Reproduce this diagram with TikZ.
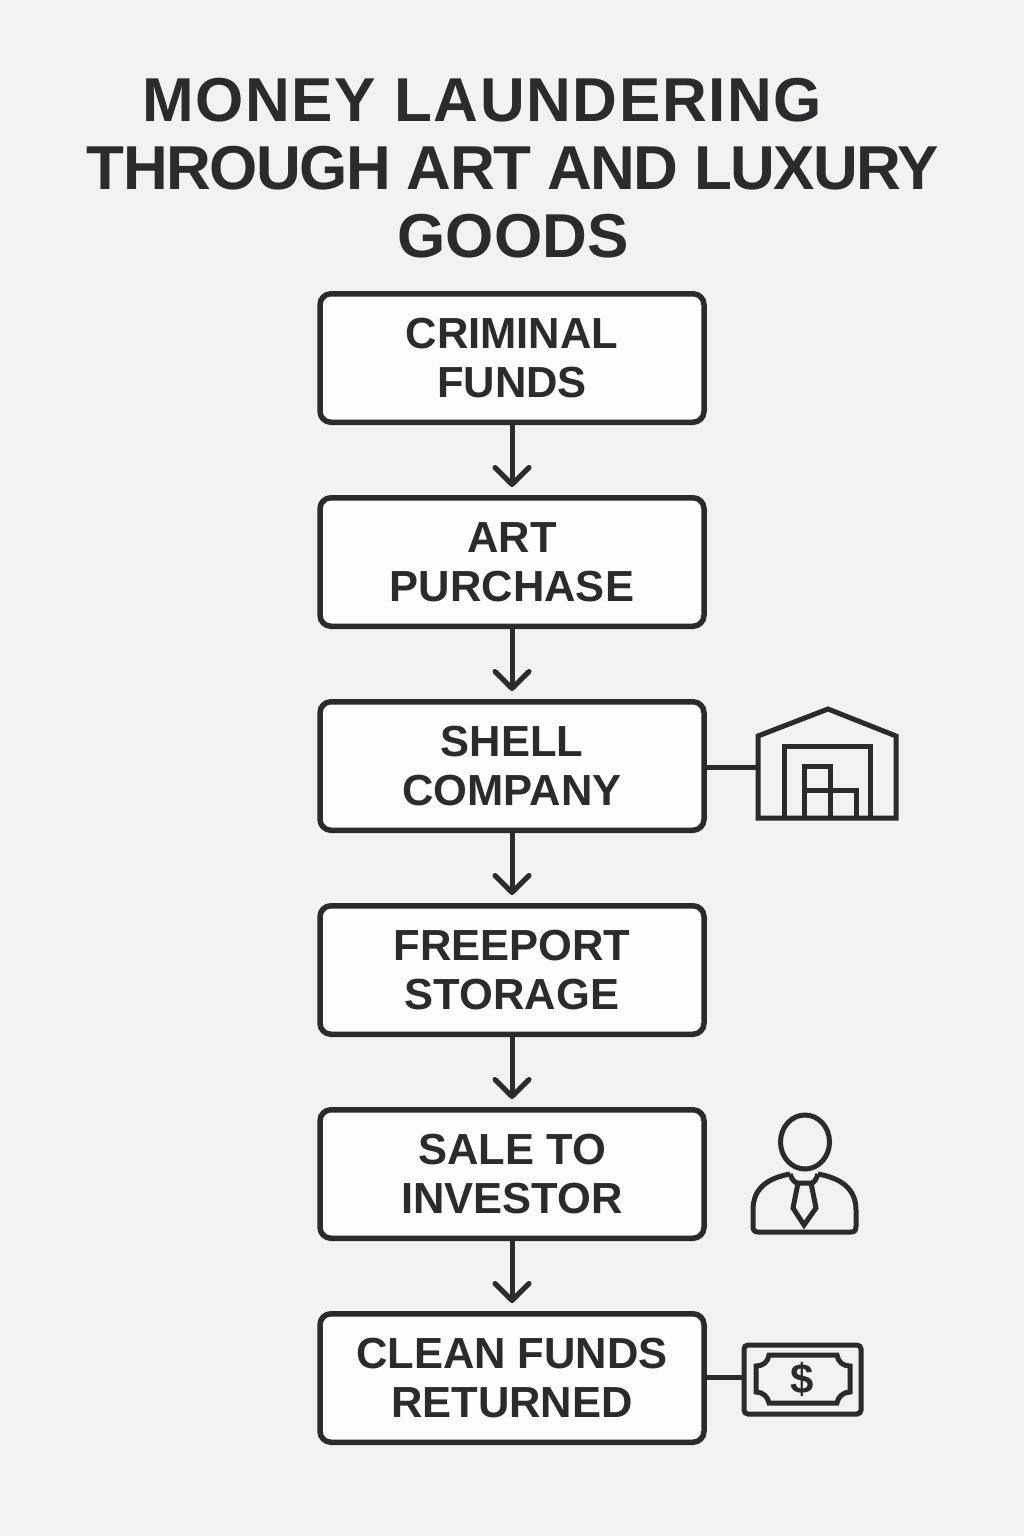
\documentclass[tikz,border=0pt]{standalone}
\usepackage{fontspec}
\setmainfont{Liberation Sans}
\usetikzlibrary{arrows.meta,positioning}
\definecolor{ink}{HTML}{2B2B2B}
\definecolor{paper}{HTML}{F2F2F0}
\definecolor{boxfill}{HTML}{FDFDFB}

\begin{document}
\begin{tikzpicture}[
  x=1pt, y=-1pt,
  font=\fontsize{43.5}{49}\selectfont\bfseries,
  text=ink,
  flowbox/.style={draw=ink, line width=5.5pt, rounded corners=11pt, fill=boxfill, align=center,
    minimum width=384pt, minimum height=128.5pt, inner sep=0pt},
  arr/.style={-{Straight Barb[length=17pt, width=34pt, round]}, draw=ink, line width=5pt, shorten >=8pt},
  tie/.style={draw=ink, line width=5pt},
  icon/.style={draw=ink, line width=5pt, line join=miter},
  titleline/.style={font=\fontsize{62}{68}\selectfont\bfseries, inner sep=0pt}
]
\fill[paper] (0,0) rectangle (1024,1536);
\useasboundingbox (0,0) rectangle (1024,1536);

% ── Title: three lines, the first sits left of centre ─────────────────
\node[titleline] (titlea) at (482,100) {\addfontfeature{LetterSpace=2.5}MONEY LAUNDERING};
\node[titleline] (titleb) at (513,168) {\addfontfeature{LetterSpace=-2.4}THROUGH ART AND LUXURY};
\node[titleline] (titlec) at (513,236) {GOODS};

% ── The flow ──────────────────────────────────────────────────────────
\node[flowbox] (crim) at (512,358) {CRIMINAL\\FUNDS};
\node[flowbox, below=70pt of crim] (art) {ART\\PURCHASE};
\node[flowbox, below=70pt of art] (shell) {SHELL\\COMPANY};
\node[flowbox, below=70pt of shell] (free) {FREEPORT\\STORAGE};
\node[flowbox, below=70pt of free] (sale) {SALE TO\\INVESTOR};
\node[flowbox, below=70pt of sale] (clean) {CLEAN FUNDS\\RETURNED};
\draw[arr] (crim) -- (art);
\draw[arr] (art) -- (shell);
\draw[arr] (shell) -- (free);
\draw[arr] (free) -- (sale);
\draw[arr] (sale) -- (clean);

% ── Warehouse ─────────────────────────────────────────────────────────
\coordinate (whouse) at (757,767);
\draw[tie] (shell.east |- whouse) -- (whouse);
\draw[icon] (758,818) -- (758,736) -- (828,709) -- (896,736) -- (896,818) -- cycle;
\draw[icon] (784,818) -- (784,746) -- (870,746) -- (870,818);
\draw[icon] (804,818) -- (804,766) -- (830,766) -- (830,818);
\draw[icon] (804,790) -- (856,790) -- (856,818);

% ── Investor ──────────────────────────────────────────────────────────
\draw[icon] (805,1142) ellipse [x radius=24.5, y radius=27];
\draw[icon, line join=round] (790,1174) .. controls (768,1178) and (753,1188) .. (753,1210)
  -- (753,1226) .. controls (753,1230) and (754,1232) .. (758,1232) -- (851,1232)
  .. controls (855,1232) and (856,1230) .. (856,1226) -- (856,1210)
  .. controls (856,1188) and (840,1178) .. (818,1174);
\draw[icon] (790,1174) .. controls (792,1180) and (795,1183) .. (798,1183) -- (811,1183)
  .. controls (814,1183) and (816,1180) .. (818,1174);
\draw[icon] (798,1183) -- (793,1208) -- (804,1225) -- (816,1208) -- (811,1183);

% ── Banknote ──────────────────────────────────────────────────────────
\coordinate (bill) at (744,1377);
\draw[tie] (clean.east |- bill) -- (bill);
\draw[icon, rounded corners=4pt] (744,1345) rectangle (861,1414);
\draw[icon] (769,1355) -- (837,1355) .. controls (838,1362) and (843,1366) .. (850,1366)
  -- (850,1392) .. controls (843,1392) and (838,1397) .. (837,1403)
  -- (769,1403) .. controls (768,1397) and (763,1392) .. (756,1392)
  -- (756,1366) .. controls (763,1366) and (768,1362) .. (769,1355) -- cycle;
\node[font=\fontsize{42}{42}\selectfont\bfseries, inner sep=0pt] (dollar) at (802,1379) {\$};
\end{tikzpicture}
\end{document}
